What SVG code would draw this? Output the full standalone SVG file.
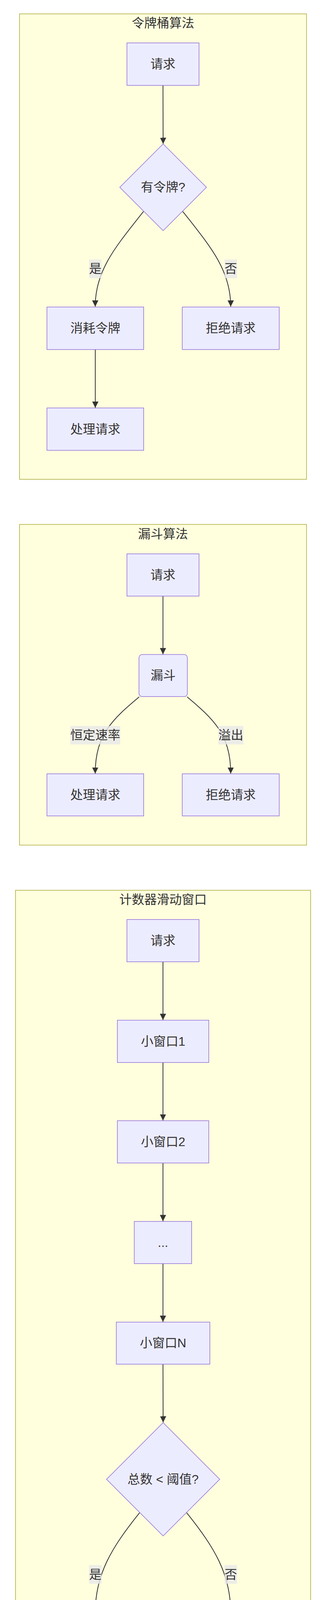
<svg xmlns="http://www.w3.org/2000/svg" width="820" height="5484" viewBox="0 0 820 5484">
<defs>
<style>
.cluster{fill:#ffffde;stroke:#aaaa33;stroke-width:1.5}
.node{fill:#ececff;stroke:#9370db;stroke-width:1.5}
.t{font-family:"Liberation Sans","Noto Sans CJK SC",sans-serif;font-size:32px;fill:#333333;text-anchor:middle;dominant-baseline:central}
.edge{fill:none;stroke:#333333;stroke-width:2}
.lbl{fill:#e8e8e8;opacity:0.8}
</style>
<marker id="arrow" viewBox="0 0 10 10" refX="10" refY="5" markerWidth="8" markerHeight="8" markerUnits="strokeWidth" orient="auto">
<path d="M0,0 L10,5 L0,10 z" fill="#333333"/>
</marker>
</defs>
<rect width="820" height="5484" fill="#ffffff"/>

<g id="clusters">
<g id="cluster-token">
<rect class="cluster" x="50" y="35.5" width="735.5" height="1191.5"/>
<text class="t" x="417.75" y="59">令牌桶算法</text>
</g>
<g id="cluster-leaky">
<rect class="cluster" x="50" y="1342.5" width="735.5" height="821"/>
<text class="t" x="417.75" y="1366.5">漏斗算法</text>
</g>
<g id="cluster-sliding">
<rect class="cluster" x="39.7" y="2279.1" width="756.3" height="2032.7"/>
<text class="t" x="417.85" y="2303.2">计数器滑动窗口</text>
</g>
<g id="cluster-fixed">
<rect class="cluster" x="31.9" y="4427.9" width="772" height="1034.7"/>
<text class="t" x="417.9" y="4452.5">计数器固定窗口</text>
</g>
</g>

<g id="connectors">
<path class="edge" marker-end="url(#arrow)" d="M417.6,218.6 L418,368.5"/>
<path class="edge" marker-end="url(#arrow)" d="M367.7,541.3 C296,632 244,692 244,785"/>
<path class="edge" marker-end="url(#arrow)" d="M468.3,541.3 C540,632 591.2,692 591.2,785"/>
<path class="edge" marker-end="url(#arrow)" d="M244.2,894.8 L244.2,1044"/>

<path class="edge" marker-end="url(#arrow)" d="M417.6,1526 L417.6,1675"/>
<path class="edge" marker-end="url(#arrow)" d="M356.7,1784 C290,1840 244,1880 244,1980.5"/>
<path class="edge" marker-end="url(#arrow)" d="M479.5,1784 C546,1840 591.2,1880 591.2,1980.5"/>

<path class="edge" marker-end="url(#arrow)" d="M417.6,2462.2 L417.6,2611.2"/>
<path class="edge" marker-end="url(#arrow)" d="M417.6,2720 L417.6,2868.5"/>
<path class="edge" marker-end="url(#arrow)" d="M417.6,2977.3 L417.6,3126.3"/>
<path class="edge" marker-end="url(#arrow)" d="M417.6,3234.8 L417.6,3384.1"/>
<path class="edge" marker-end="url(#arrow)" d="M417.6,3492.3 L418,3641.5"/>
<path class="edge" marker-end="url(#arrow)" d="M357.7,3872.6 C286,3962 244,4030 244,4129.3"/>
<path class="edge" marker-end="url(#arrow)" d="M478.3,3872.6 C550,3962 591.2,4030 591.2,4129.3"/>

<path class="edge" marker-end="url(#arrow)" d="M417.6,4610.5 L418,4760.2"/>
<path class="edge" marker-end="url(#arrow)" d="M353.6,5019.6 C290,5110 244,5170 244,5279.1"/>
<path class="edge" marker-end="url(#arrow)" d="M482.4,5019.6 C546,5110 591.2,5170 591.2,5279.1"/>
</g>

<g id="edge-labels">
<g id="label-t-yes"><rect class="lbl" x="228.2" y="664.3" width="32" height="48"/><text class="t" x="244.2" y="688.3">是</text></g>
<g id="label-t-no"><rect class="lbl" x="575.5" y="664.3" width="32" height="48"/><text class="t" x="591.5" y="688.3">否</text></g>
<g id="label-l-rate"><rect class="lbl" x="180.4" y="1858.4" width="127.6" height="47.4"/><text class="t" x="244.2" y="1882.1">恒定速率</text></g>
<g id="label-l-over"><rect class="lbl" x="559.5" y="1858.4" width="64" height="47.4"/><text class="t" x="591.5" y="1882.1">溢出</text></g>
<g id="label-s-yes"><rect class="lbl" x="228.2" y="4006.5" width="32" height="48"/><text class="t" x="244.2" y="4030.5">是</text></g>
<g id="label-s-no"><rect class="lbl" x="575.5" y="4006.5" width="32" height="48"/><text class="t" x="591.5" y="4030.5">否</text></g>
<g id="label-f-yes"><rect class="lbl" x="228.2" y="5156.5" width="32" height="48"/><text class="t" x="244.2" y="5180.5">是</text></g>
<g id="label-f-no"><rect class="lbl" x="575.5" y="5156.5" width="32" height="48"/><text class="t" x="591.5" y="5180.5">否</text></g>
</g>

<g id="nodes">
<g id="t-req"><rect class="node" x="325.3" y="109.8" width="184.7" height="108.8"/><text class="t" x="417.6" y="164.2">请求</text></g>
<g id="t-has"><polygon class="node" points="418,368.5 529,479.5 418,590.5 307,479.5"/><text class="t" x="418" y="479">有令牌?</text></g>
<g id="t-consume"><rect class="node" x="120.3" y="786" width="247.9" height="108.8"/><text class="t" x="244.2" y="840.4">消耗令牌</text></g>
<g id="t-reject"><rect class="node" x="467" y="786" width="248.5" height="108.8"/><text class="t" x="591.2" y="840.4">拒绝请求</text></g>
<g id="t-process"><rect class="node" x="120.3" y="1044.4" width="247.9" height="108.4"/><text class="t" x="244.2" y="1098.6">处理请求</text></g>

<g id="l-req"><rect class="node" x="325.3" y="1417.8" width="184.7" height="108.2"/><text class="t" x="417.6" y="1471.9">请求</text></g>
<g id="l-funnel"><rect class="node" x="356.2" y="1675.6" width="123.9" height="107.7" rx="8" ry="8"/><text class="t" x="418.1" y="1729.4">漏斗</text></g>
<g id="l-process"><rect class="node" x="120.3" y="1981" width="247.9" height="107.7"/><text class="t" x="244.2" y="2034.9">处理请求</text></g>
<g id="l-reject"><rect class="node" x="467" y="1981" width="248.5" height="107.7"/><text class="t" x="591.2" y="2034.9">拒绝请求</text></g>

<g id="s-req"><rect class="node" x="325.3" y="2353.9" width="184.7" height="108.3"/><text class="t" x="417.6" y="2408">请求</text></g>
<g id="s-w1"><rect class="node" x="300.7" y="2611.7" width="234.3" height="108.3"/><text class="t" x="417.85" y="2665.9">小窗口1</text></g>
<g id="s-w2"><rect class="node" x="300.7" y="2869" width="234.3" height="108.3"/><text class="t" x="417.85" y="2923.2">小窗口2</text></g>
<g id="s-dots"><rect class="node" x="344.1" y="3126.8" width="147" height="108"/><text class="t" x="417.6" y="3180.8">...</text></g>
<g id="s-wn"><rect class="node" x="298.1" y="3384.6" width="239.6" height="107.7"/><text class="t" x="417.9" y="3438.4">小窗口N</text></g>
<g id="s-check"><polygon class="node" points="418,3642 563,3787 418,3932 273,3787"/><text class="t" x="418" y="3787">总数 &lt; 阈值?</text></g>
<g id="s-process"><rect class="node" x="120.3" y="4129.8" width="247.9" height="107.8"/><text class="t" x="244.2" y="4183.7">处理请求</text></g>
<g id="s-reject"><rect class="node" x="467" y="4129.8" width="248.5" height="107.8"/><text class="t" x="591.2" y="4183.7">拒绝请求</text></g>

<g id="f-req"><rect class="node" x="325.3" y="4503.2" width="184.7" height="107.3"/><text class="t" x="417.6" y="4556.9">请求</text></g>
<g id="f-check"><polygon class="node" points="418,4760.7 578.5,4921.1 418,5081.5 257.5,4921.1"/><text class="t" x="418" y="4921">计数器 &lt; 阈值?</text></g>
<g id="f-process"><rect class="node" x="120.3" y="5279.6" width="247.9" height="108.2"/><text class="t" x="244.2" y="5333.7">处理请求</text></g>
<g id="f-reject"><rect class="node" x="467" y="5279.6" width="248.5" height="108.2"/><text class="t" x="591.2" y="5333.7">拒绝请求</text></g>
</g>
</svg>
